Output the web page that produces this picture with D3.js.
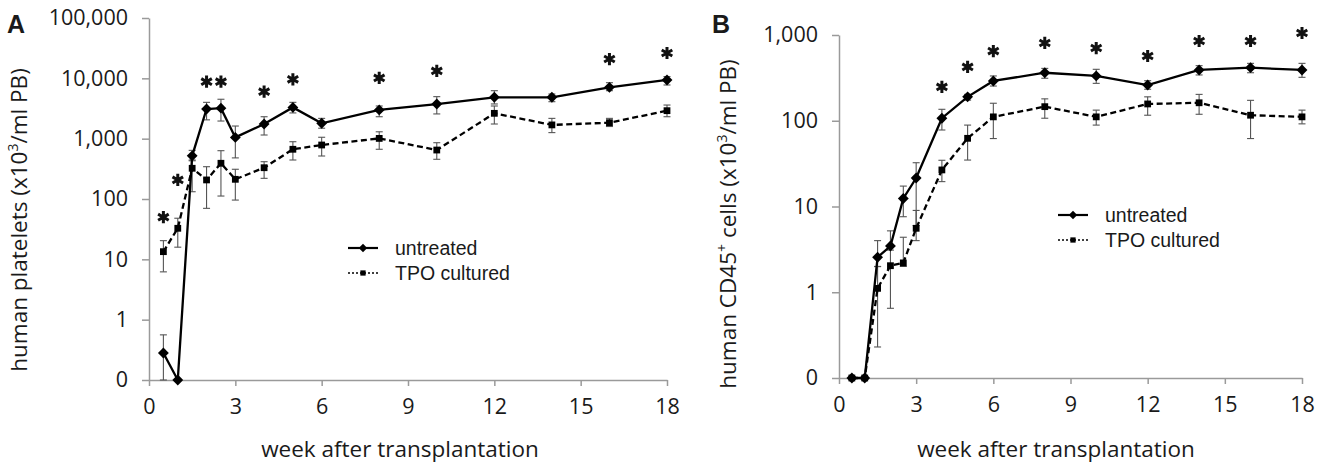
<!DOCTYPE html>
<html>
<head>
<meta charset="utf-8">
<script src="https://cdn.jsdelivr.net/npm/d3@7"></script>
<style>
	body { margin: 0; background: #fff; }
	text { fill: #1a1a1a; }
</style>
</head>
<body>
<script>
//Weeks after transplantation (same for both panels).
var weeks = [0.5, 1, 1.5, 2, 2.5, 3, 4, 5, 6, 8, 10, 12, 14, 16, 18];

//Panel A: human platelets (0 on the log axis is drawn at 0.1).
var untreatedA    = [0.28, 0.1, 520, 3100, 3200, 1050, 1750, 3300, 1800, 3000, 3750, 4850, 4850, 7100, 9400];
var untreatedAHi  = [0.56, 0.1, 640, 4000, 4500, 1620, 2310, 4000, 2170, 3480, 4970, 6240, 5500, 8470, 10700];
var untreatedALo  = [0.1, 0.1, 430, 2050, 1960, 480, 1150, 2670, 1490, 2310, 2570, 3760, 4100, 6240, 7760];
var tpoA          = [13.4, 32.7, 323, 207, 391, 212, 330, 667, 785, 1010, 648, 2630, 1690, 1840, 2910];
var tpoAHi        = [20.4, 48, 443, 343, 632, 311, 415, 890, 1055, 1300, 857, 3480, 2170, 2170, 3610];
var tpoALo        = [6.2, 15.9, 132, 70, 112, 96, 220, 443, 516, 667, 455, 1750, 1260, 1590, 2310];
var starWeeksA    = [0.5, 1, 2, 2.5, 4, 5, 8, 10, 16, 18];
var starLevelsA   = [50, 207, 8790, 8790, 6010, 9640, 10140, 13240, 20900, 26300];

//Panel B: human CD45+ cells.
var untreatedB    = [0.1, 0.1, 2.56, 3.46, 12.4, 21.5, 107, 190, 291, 363, 333, 261, 391, 416, 391];
var untreatedBHi  = [0.1, 0.1, 4.0, 5.2, 17.3, 32.4, 136, 203, 333, 408, 398, 293, 439, 467, 467];
var untreatedBLo  = [0.1, 0.1, 1.99, 3.1, 7.6, 6, 78, 174, 254, 313, 273, 233, 342, 363, 321];
var tpoB          = [0.1, 0.1, 1.11, 2.04, 2.2, 5.57, 26.7, 62.4, 111, 146, 111, 157, 162, 116, 111];
var tpoBHi        = [0.1, 0.1, 2.0, 3.5, 4.38, 9, 34.6, 89, 160, 180, 133, 190, 203, 173, 133];
var tpoBLo        = [0.1, 0.1, 0.23, 0.65, 2.0, 4, 19.5, 34.8, 62, 107, 89, 116, 119, 62, 92];
var starWeeksB    = [4, 5, 6, 8, 10, 12, 14, 16, 18];
var starLevelsB   = [248, 424, 650, 807, 705, 569, 851, 851, 1055];

//Axis ticks.
var xTicks   = [0, 3, 6, 9, 12, 15, 18];
var yTicksA  = [0.1, 1, 10, 100, 1000, 10000, 100000];
var yLabelsA = ["0", "1", "10", "100", "1,000", "10,000", "100,000"];
var yTicksB  = [0.1, 1, 10, 100, 1000];
var yLabelsB = ["0", "1", "10", "100", "1,000"];
var seriesNames = ["untreated", "TPO cultured"];

var axisColor = "#9a9a9a";
var tickFont = "'Open Sans', sans-serif";

var svg = d3.select("body")
	.append("svg")
	.attr("width", 1325)
	.attr("height", 464);

function rows(v, hi, lo){
	return weeks.map(function(w, i){
		return {w: w, v: v[i], hi: hi[i], lo: lo[i]};
	});
}

function drawPanel(p){
	var x = d3.scaleLinear().domain([0, 18]).range(p.xRange);
	var y = d3.scaleLog().domain([0.1, p.yTicks[p.yTicks.length - 1]]).range(p.yRange);
	var g = svg.append("g");

	//Axes.
	var xAxis = g.append("g")
		.attr("transform", "translate(0," + p.yRange[0] + ")")
		.call(d3.axisBottom(x).tickValues(xTicks).tickSize(6).tickSizeOuter(0).tickPadding(13));
	var yAxis = g.append("g")
		.attr("transform", "translate(" + p.xRange[0] + ",0)")
		.call(d3.axisLeft(y).tickValues(p.yTicks).tickSize(7).tickSizeOuter(0).tickPadding(14)
			.tickFormat(function(d, i){ return p.yLabels[i]; }));
	[xAxis, yAxis].forEach(function(a){
		a.select(".domain").attr("stroke", axisColor).attr("stroke-width", 1.5);
		a.selectAll(".tick line").attr("stroke", axisColor).attr("stroke-width", 1.5);
		a.selectAll(".tick text")
			.attr("font-family", tickFont)
			.attr("font-size", 21.5)
			.attr("fill", "#1a1a1a");
	});

	//Error bars.
	p.series.forEach(function(s){
		var eb = g.append("g").selectAll("g")
			.data(s.rows.filter(function(d){ return d.hi > d.lo; }))
			.enter().append("g")
			.attr("stroke", "#555")
			.attr("stroke-width", 1.1);
		eb.append("line")
			.attr("x1", function(d){ return x(d.w); })
			.attr("x2", function(d){ return x(d.w); })
			.attr("y1", function(d){ return y(d.hi); })
			.attr("y2", function(d){ return y(d.lo); });
		eb.append("line")
			.attr("x1", function(d){ return x(d.w) - 3.5; })
			.attr("x2", function(d){ return x(d.w) + 3.5; })
			.attr("y1", function(d){ return y(d.hi); })
			.attr("y2", function(d){ return y(d.hi); });
		eb.append("line")
			.attr("x1", function(d){ return x(d.w) - 3.5; })
			.attr("x2", function(d){ return x(d.w) + 3.5; })
			.attr("y1", function(d){ return y(d.lo); })
			.attr("y2", function(d){ return y(d.lo); });
	});

	//Lines and markers.
	var line = d3.line()
		.x(function(d){ return x(d.w); })
		.y(function(d){ return y(d.v); });
	p.series.slice().reverse().forEach(function(s){
		g.append("path")
			.datum(s.rows)
			.attr("d", line)
			.attr("fill", "none")
			.attr("stroke", "#000")
			.attr("stroke-width", 2.3)
			.attr("stroke-dasharray", s.dash);
		g.append("g").selectAll("path")
			.data(s.rows)
			.enter().append("path")
			.attr("transform", function(d){ return "translate(" + x(d.w) + "," + y(d.v) + ")"; })
			.attr("d", d3.symbol().type(s.symbol).size(s.size))
			.attr("fill", "#000");
	});

	//Significance stars.
	g.append("g").selectAll("path")
		.data(p.starWeeks.map(function(w, i){ return {w: w, v: p.starLevels[i]}; }))
		.enter().append("path")
		.attr("transform", function(d){ return "translate(" + x(d.w) + "," + y(d.v) + ")"; })
		.attr("d", d3.symbol().type(d3.symbolAsterisk).size(105))
		.attr("stroke", "#111")
		.attr("stroke-width", 3)
		.attr("fill", "none");

	//Axis titles.
	g.append("text")
		.attr("x", p.xTitle[0])
		.attr("y", p.xTitle[1])
		.attr("text-anchor", "middle")
		.attr("font-family", tickFont)
		.attr("font-size", 22.5)
		.text("week after transplantation");
	var yt = g.append("text")
		.attr("transform", "translate(" + p.yTitle[0] + "," + p.yTitle[1] + ") rotate(-90)")
		.attr("text-anchor", "middle")
		.attr("font-family", tickFont)
		.attr("font-size", 22.5);
	p.yTitleParts.forEach(function(t){
		yt.append("tspan")
			.attr("dy", t.dy)
			.attr("font-size", t.small ? 14 : 22.5)
			.text(t.text);
	});

	//Panel letter.
	g.append("text")
		.attr("x", p.letter[0])
		.attr("y", p.letter[1])
		.attr("font-family", "'Liberation Sans', Arial, sans-serif")
		.attr("font-weight", "bold")
		.attr("font-size", 25)
		.text(p.letterText);

	//Legend.
	var lg = g.append("g").selectAll("g")
		.data(p.series)
		.enter().append("g")
		.attr("transform", function(d, i){ return "translate(" + p.legend[0] + "," + (p.legend[1] + i * 25) + ")"; });
	lg.append("line")
		.attr("x1", 0).attr("x2", 30)
		.attr("stroke", "#000")
		.attr("stroke-width", function(d){ return d.legendDash ? 1.5 : 2.2; })
		.attr("stroke-dasharray", function(d){ return d.legendDash; });
	lg.append("path")
		.attr("transform", "translate(15,0)")
		.attr("d", function(d){ return d3.symbol().type(d.symbol).size(d.size * 0.6)(); })
		.attr("fill", "#000");
	lg.append("text")
		.attr("x", 47)
		.attr("dy", "0.35em")
		.attr("font-family", "'Liberation Sans', Arial, sans-serif")
		.attr("font-size", 19.5)
		.text(function(d){ return d.name; });
}

function makeSeries(u, uHi, uLo, t, tHi, tLo){
	return [
		{name: seriesNames[0], rows: rows(u, uHi, uLo), symbol: d3.symbolDiamond2, size: 75, dash: null, legendDash: null},
		{name: seriesNames[1], rows: rows(t, tHi, tLo), symbol: d3.symbolSquare, size: 46, dash: "6,3.5", legendDash: "2,2"}
	];
}

drawPanel({
	xRange: [149, 667], yRange: [380, 18],
	yTicks: yTicksA, yLabels: yLabelsA,
	series: makeSeries(untreatedA, untreatedAHi, untreatedALo, tpoA, tpoAHi, tpoALo),
	starWeeks: starWeeksA, starLevels: starLevelsA,
	xTitle: [400, 457], yTitle: [27, 220],
	yTitleParts: [{text: "human platelets (x10", dy: 0}, {text: "3", dy: -9, small: true}, {text: "/ml PB)", dy: 9}],
	letter: [7, 33], letterText: "A",
	legend: [348, 248]
});

drawPanel({
	xRange: [839, 1302], yRange: [378, 35],
	yTicks: yTicksB, yLabels: yLabelsB,
	series: makeSeries(untreatedB, untreatedBHi, untreatedBLo, tpoB, tpoBHi, tpoBLo),
	starWeeks: starWeeksB, starLevels: starLevelsB,
	xTitle: [1056, 457], yTitle: [736, 224],
	yTitleParts: [{text: "human CD45", dy: 0}, {text: "+", dy: -9, small: true}, {text: " cells (x10", dy: 9}, {text: "3", dy: -9, small: true}, {text: "/ml PB)", dy: 9}],
	letter: [712, 33], letterText: "B",
	legend: [1058, 215]
});
</script>
</body>
</html>
